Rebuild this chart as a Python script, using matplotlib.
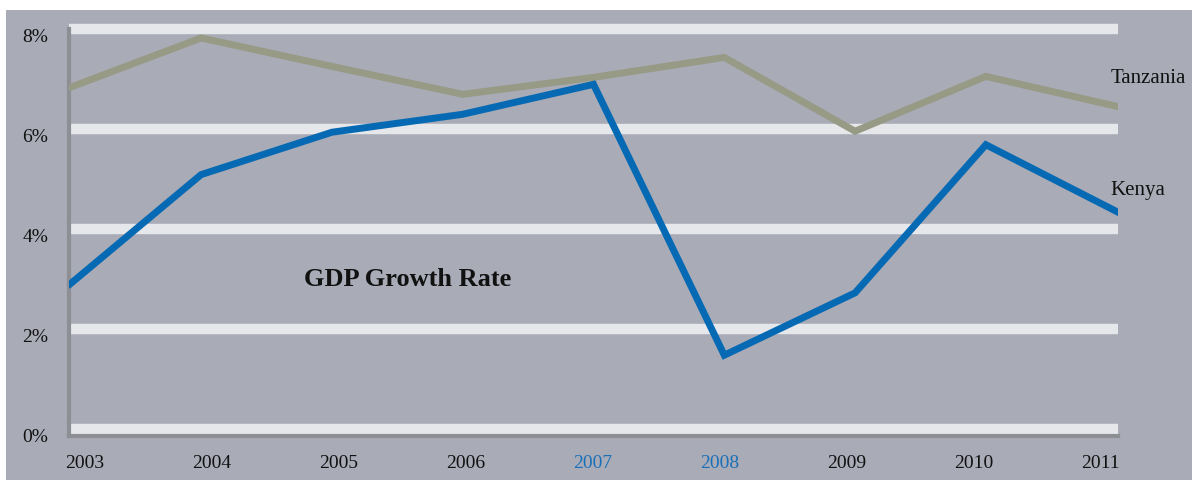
import matplotlib.pyplot as plt
from matplotlib.patches import Rectangle

years = ['2003', '2004', '2005', '2006', '2007', '2008', '2009', '2010', '2011']
tanzania = [6.84, 7.83, 7.26, 6.70, 7.04, 7.44, 5.96, 7.06, 6.46]
kenya = [2.90, 5.09, 5.94, 6.30, 6.90, 1.47, 2.72, 5.69, 4.35]
yticks = [0, 2, 4, 6, 8]
ytick_labels = ['0%', '2%', '4%', '6%', '8%']
blue_years = ['2007', '2008']

bg = '#a9abb7'
W, H = 1194, 482

fig = plt.figure(figsize=(W / 100, H / 100), dpi=100, facecolor='white')
fig.patches.append(Rectangle((6 / W, 2 / H), 1186 / W, 470 / H, transform=fig.transFigure,
                             facecolor=bg, edgecolor='none', zorder=-10))

ax = fig.add_axes([69 / W, (H - 436) / H, (1118 - 69) / W, (436 - 22) / H])
ax.set_zorder(5)
ax.set_facecolor(bg)
x = list(range(len(years)))

ax.set_ylim(-0.15, 8.15)
ax.set_xlim(-0.01, 8.01)

# wide white bands
for t in yticks:
    ax.axhline(t, color='#e6e7ea', lw=7.5, zorder=1)

ax.plot(x, tanzania, color='#979a85', lw=5, zorder=3, solid_joinstyle='miter')
ax.plot(x, kenya, color='#0569b3', lw=5, zorder=4, solid_joinstyle='miter')

for s in ['top', 'right']:
    ax.spines[s].set_visible(False)
for s in ['left', 'bottom']:
    ax.spines[s].set_color('#8e8f95')
    ax.spines[s].set_linewidth(3)
ax.spines['left'].set_bounds(-0.15, 8.0)

# category labels sit a bit inside the ends, evenly spaced
lab_pos = [0.11 + i * 0.971 for i in range(len(years))]

ax.set_yticks(yticks)
ax.set_yticklabels(ytick_labels, fontsize=14, family='Liberation Serif', color='#111111')
ax.set_xticks(lab_pos)
ax.set_xticklabels(years, fontsize=14, family='Liberation Serif', color='#111111')
for lbl in ax.get_xticklabels():
    if lbl.get_text() in blue_years:
        lbl.set_color('#1a70b8')
for lbl in ax.get_yticklabels():
    lbl.set_va('top')
ax.tick_params(axis='both', length=0)
ax.tick_params(axis='y', pad=15)
ax.tick_params(axis='x', pad=14)

ax.text(2.58, 2.98, 'GDP Growth Rate', fontsize=19, fontweight='bold',
        family='Liberation Serif', ha='center', va='center', color='#111111')
ax.text(7.95, 7.02, 'Tanzania', fontsize=15, family='Liberation Serif',
        ha='left', va='center', color='#111111', clip_on=False)
ax.text(7.95, 4.77, 'Kenya', fontsize=15, family='Liberation Serif',
        ha='left', va='center', color='#111111', clip_on=False)

plt.savefig('out.png', dpi=100, facecolor='white')
